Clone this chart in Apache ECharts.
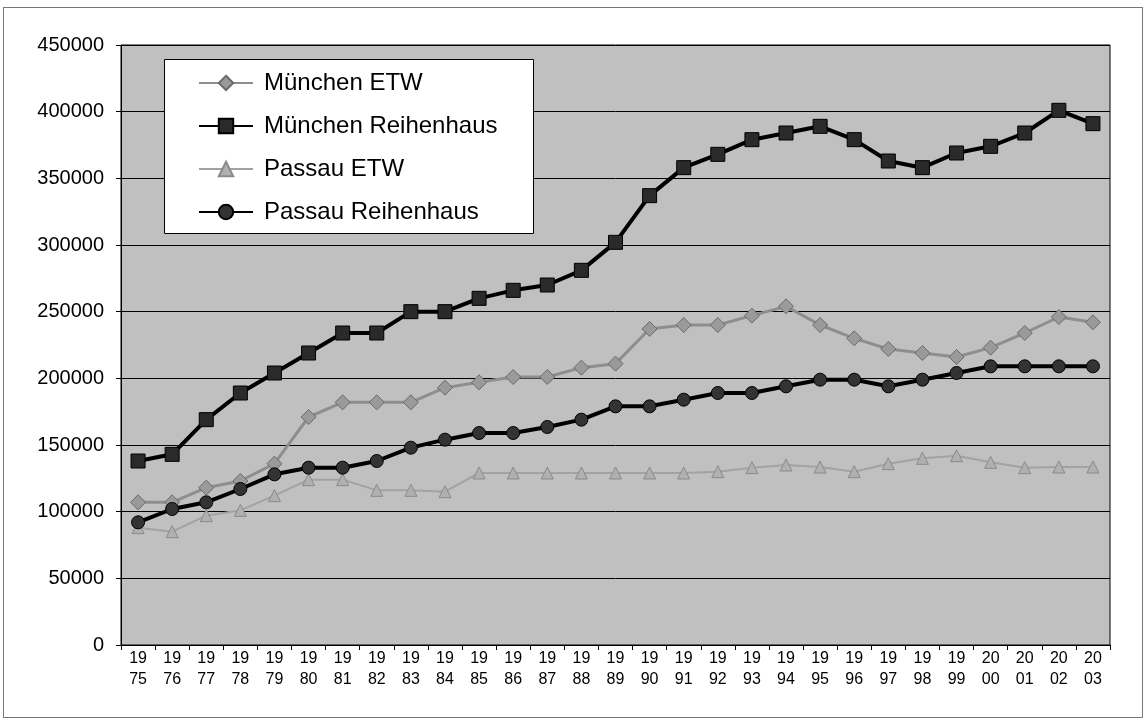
<!DOCTYPE html>
<html>
<head>
<meta charset="utf-8">
<script src="https://cdn.jsdelivr.net/npm/echarts@6/dist/echarts.min.js"></script>
<style>
  html, body { margin: 0; padding: 0; background: #fff; }
  #chart { width: 1147px; height: 721px; box-sizing: border-box; }
  .frame { position: absolute; left: 3px; top: 7px; width: 1138px; height: 709px; border: 1px solid #777; pointer-events: none; }
</style>
</head>
<body>
<div id="chart"></div>
<div class="frame"></div>
<script>
const years = ["1975","1976","1977","1978","1979","1980","1981","1982","1983","1984",
  "1985","1986","1987","1988","1989","1990","1991","1992","1993","1994",
  "1995","1996","1997","1998","1999","2000","2001","2002","2003"];

const muenchenETW = [107000,107000,118000,123000,136000,171000,182000,182000,182000,193000,
  197000,201000,201000,208000,211000,237000,240000,240000,247000,254000,
  240000,230000,222000,219000,216000,223000,234000,246000,242000];

const muenchenRH = [138000,143000,169000,189000,204000,219000,234000,234000,250000,250000,
  260000,266000,270000,281000,302000,337000,358000,368000,379000,384000,
  389000,379000,363000,358000,369000,374000,384000,401000,391000];

const passauETW = [88000,85000,97000,101000,112000,124000,124000,116000,116000,115000,
  129000,129000,129000,129000,129000,129000,129000,130000,133000,135000,
  133500,130000,136000,140000,142000,137000,133000,133500,133500];

const passauRH = [92000,102000,107000,117000,128000,133000,133000,138000,148000,154000,
  159000,159000,163500,169000,179000,179000,184000,189000,189000,194000,
  199000,199000,194000,199000,204000,209000,209000,209000,209000];

const yTicks = { min: 0, max: 450000, step: 50000 };

const chart = echarts.init(document.getElementById("chart"));

const options = {
  animation: false,
  textStyle: { fontFamily: "Liberation Sans, Arial, sans-serif", color: "#000" },
  legend: {
    orient: "vertical",
    left: 198,
    top: 71,
    itemWidth: 54,
    itemHeight: 18,
    itemGap: 19,
    padding: 0,
    z: 10,
    textStyle: { fontSize: 24, color: "#000", padding: [0, 0, 0, 6] },
    data: ["München ETW", "München Reihenhaus", "Passau ETW", "Passau Reihenhaus"]
  },
  graphic: [{
    type: "rect",
    left: 164, top: 59,
    shape: { width: 369, height: 174 },
    style: { fill: "#fff", stroke: "#000", lineWidth: 1 },
    z: 9
  }],
  grid: {
    left: 121, right: 37, top: 45, bottom: 76,
    show: true,
    backgroundColor: "#c0c0c0",
    borderColor: "#000",
    borderWidth: 1
  },
  xAxis: {
    type: "category",
    data: years,
    boundaryGap: true,
    axisLine: { lineStyle: { color: "#000", width: 1 } },
    axisTick: { show: true, length: 5, lineStyle: { color: "#000" } },
    axisLabel: {
      interval: 0,
      fontSize: 16,
      lineHeight: 21,
      margin: 3,
      color: "#000",
      fontFamily: "Liberation Sans Narrow, Liberation Sans, Arial, sans-serif",
      formatter: v => v.slice(0, 2) + "\n" + v.slice(2)
    }
  },
  yAxis: {
    type: "value",
    min: yTicks.min, max: yTicks.max, interval: yTicks.step,
    axisLine: { show: true, lineStyle: { color: "#000", width: 1 } },
    axisTick: { show: true, length: 5, lineStyle: { color: "#000" } },
    splitLine: { lineStyle: { color: "#000", width: 1 } },
    axisLabel: { fontSize: 20, color: "#000", margin: 17, formatter: v => String(v) }
  },
  series: [
    {
      name: "München ETW", type: "line", data: muenchenETW, z: 3,
      symbol: "diamond", symbolSize: 15,
      lineStyle: { color: "#8e8e8e", width: 3 },
      itemStyle: { color: "#9a9a9a", borderColor: "#6a6a6a", borderWidth: 1 }
    },
    {
      name: "München Reihenhaus", type: "line", data: muenchenRH, z: 5,
      symbol: "rect", symbolSize: 14,
      lineStyle: { color: "#000", width: 4 },
      itemStyle: { color: "#2a2a2a", borderColor: "#000", borderWidth: 1 }
    },
    {
      name: "Passau ETW", type: "line", data: passauETW, z: 2,
      symbol: "triangle", symbolSize: 12,
      lineStyle: { color: "#a2a2a2", width: 2 },
      itemStyle: { color: "#b0b0b0", borderColor: "#8a8a8a", borderWidth: 1 }
    },
    {
      name: "Passau Reihenhaus", type: "line", data: passauRH, z: 4,
      symbol: "circle", symbolSize: 13,
      lineStyle: { color: "#000", width: 4 },
      itemStyle: { color: "#333", borderColor: "#000", borderWidth: 1 }
    }
  ]
};

chart.setOption(options);
</script>
</body>
</html>
